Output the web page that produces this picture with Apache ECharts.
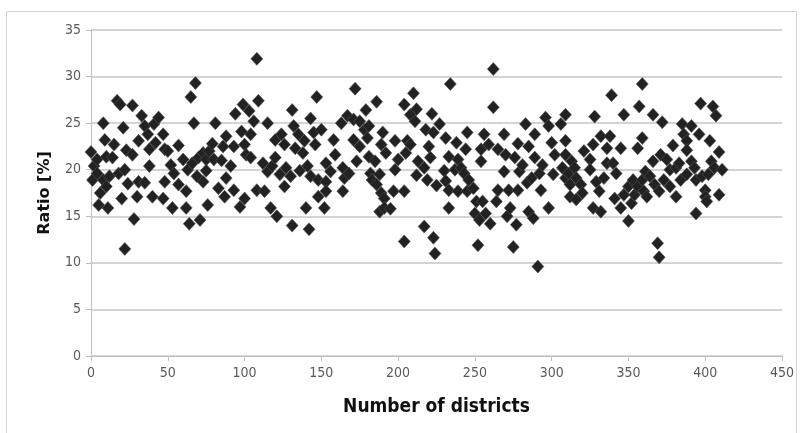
<!DOCTYPE html>
<html>
<head>
<meta charset="utf-8">
<style>
  html, body { margin: 0; padding: 0; background: #ffffff; }
  #chart { width: 802px; height: 433px; }
</style>
<script src="https://cdn.jsdelivr.net/npm/echarts@6.0.0/dist/echarts.min.js"></script>
</head>
<body>
<div id="chart"></div>
<script>
// [district number, ratio %], in segments along the x axis
const seg1 = [[0,21.9],[1,18.9],[2,20.4],[4,21.1],[4,19.6],[5,16.2],[6,17.5],[8,25.0],[8,18.9],[9,23.2],[10,18.2],[10,21.4],[11,15.9],[12,19.3],[14,21.3],[15,22.7],[17,27.4],[18,19.6],[19,27.0],[20,16.9],[21,24.5],[22,20.0],[22,11.5],[23,22.1],[24,18.5],[27,26.9],[27,21.6],[28,14.7],[30,17.1],[31,18.7],[31,23.1],[33,25.8],[35,24.7],[35,18.6],[37,23.8],[38,22.2],[38,20.4],[40,17.1],[41,24.9],[42,22.9],[44,25.6],[47,23.8],[47,16.9],[48,22.2],[48,18.7]];
const seg2 = [[50,22.0],[52,20.5],[53,15.9],[54,19.6],[57,22.6],[57,18.4],[60,21.1],[62,17.7],[62,15.9],[63,20.0],[64,14.2],[65,27.8],[66,20.7],[67,25.0],[68,29.3],[69,19.3],[70,21.3],[71,14.6],[73,21.8],[73,18.7],[75,21.1],[75,19.9],[76,16.2],[77,22.0],[79,22.8],[80,21.1],[81,25.0],[83,18.0],[85,21.0],[86,22.5],[87,17.1],[88,23.6],[88,19.1],[91,20.4],[93,22.5],[93,17.8],[94,26.0],[97,16.0],[98,24.1],[99,27.0],[100,22.7],[100,16.9]];
const seg3 = [[101,21.6],[103,26.3],[104,23.8],[104,21.3],[106,25.2],[108,31.9],[108,17.8],[109,27.4],[112,20.7],[113,17.7],[115,25.0],[115,19.8],[117,15.9],[118,20.4],[120,23.2],[120,21.3],[121,15.0],[123,19.5],[124,23.8],[126,22.7],[126,18.2],[127,20.2],[130,19.3],[131,26.4],[131,14.0],[132,24.7],[133,22.3],[135,23.8],[136,19.9],[138,21.8],[139,23.1],[140,15.9],[141,20.4],[142,13.6],[143,25.5],[143,19.3],[145,24.0],[146,22.7],[147,27.8],[148,18.9],[148,17.1],[150,24.3],[152,15.9],[153,20.7],[153,18.7],[153,17.7]];
const seg4 = [[156,19.8],[158,23.2],[159,21.6],[163,25.0],[164,20.2],[164,17.7],[165,19.1],[167,25.8],[168,19.6],[171,25.4],[171,23.2],[172,28.7],[173,20.9],[175,25.2],[175,22.5],[178,24.3],[179,26.4],[180,23.4],[181,24.7],[181,21.4],[182,19.6],[183,18.9],[185,20.9],[186,18.4],[186,27.3],[188,19.5],[188,15.5],[189,22.7],[189,17.5],[190,24.0],[191,16.9],[191,15.9],[192,21.8],[195,15.8],[197,17.7],[198,23.1],[198,20.0],[200,21.1],[204,27.0],[204,12.3]];
const seg5 = [[204,17.7],[205,21.8],[206,23.1],[208,25.9],[208,22.7],[210,28.2],[211,25.2],[212,26.5],[212,19.4],[213,20.9],[217,20.2],[217,13.9],[218,24.3],[219,18.9],[220,22.5],[221,21.3],[222,26.0],[223,24.0],[223,12.7],[224,11.0],[225,18.3],[227,24.9],[230,19.9],[231,23.4],[231,18.8],[233,21.4],[233,17.8],[233,15.9],[234,29.2],[237,20.0],[238,22.9],[239,21.1],[239,17.7],[241,20.2],[243,19.6],[244,22.2],[245,24.0],[245,17.7],[246,18.9],[249,18.0],[250,15.3],[251,16.6],[252,11.9],[253,14.6],[254,22.2],[254,20.9],[255,16.6],[256,23.8],[257,15.3]];
const seg6 = [[259,22.7],[260,14.2],[262,30.8],[262,26.7],[264,16.6],[265,22.2],[265,17.8],[269,23.8],[269,19.8],[270,21.6],[271,15.0],[272,17.8],[273,15.9],[275,11.7],[276,21.3],[277,14.1],[278,22.8],[278,17.8],[279,19.8],[281,20.5],[283,24.9],[284,18.6],[285,22.5],[285,15.5],[287,19.1],[288,14.8],[289,23.8],[289,21.3],[291,9.6],[292,19.6],[293,17.8],[294,20.5],[296,25.6],[298,24.7],[298,15.9],[300,22.9],[301,19.5],[302,21.6],[306,24.9],[307,20.2],[309,25.9],[309,23.1],[309,21.6],[309,19.1]];
const seg7 = [[311,19.6],[312,18.4],[312,17.1],[313,20.9],[315,20.2],[316,19.1],[316,16.8],[319,18.4],[320,17.5],[321,22.0],[325,21.1],[325,20.0],[327,22.7],[327,15.9],[328,25.7],[329,18.7],[331,17.7],[332,23.6],[332,15.5],[334,19.1],[336,22.3],[336,20.7],[338,23.6],[339,28.0],[340,20.7],[341,16.9],[342,19.6],[345,22.3],[345,15.9],[347,25.9],[347,17.3],[350,18.2],[350,14.5],[352,16.4],[353,18.9],[354,17.3],[356,22.3],[356,18.2],[357,26.8],[359,29.2],[359,23.4],[359,18.9],[360,17.7]];
const seg8 = [[361,19.8],[362,17.1],[364,19.3],[366,25.9],[366,20.9],[367,18.4],[369,12.1],[370,10.6],[370,17.7],[371,21.6],[372,25.1],[373,18.9],[375,21.1],[377,20.0],[377,18.2],[379,22.6],[381,20.2],[381,17.1],[383,20.7],[384,18.9],[385,24.9],[386,23.8],[388,23.1],[388,22.1],[388,19.5],[391,24.7],[391,20.9],[393,20.2],[394,18.9],[394,15.3],[396,23.8],[397,27.1],[398,19.3],[400,17.8],[400,17.1],[401,16.6],[402,19.5],[403,23.1],[404,20.9],[405,26.8],[406,20.2],[407,25.8],[409,21.9],[409,17.3],[411,20.0]];

const xTitle = 'Number of districts';
const yTitle = 'Ratio [%]';

const points = [].concat(seg1, seg2, seg3, seg4, seg5, seg6, seg7, seg8);

const labelFont = "'Liberation Sans Narrow', 'DejaVu Sans Condensed', sans-serif";
const chart = echarts.init(document.getElementById('chart'), null, { renderer: 'canvas' });
chart.setOption({
  animation: false,
  backgroundColor: '#ffffff',
  graphic: [{
    type: 'rect',
    shape: { x: 6.5, y: 11.5, width: 790, height: 440 },
    style: { fill: 'none', stroke: '#d4d4d4', lineWidth: 1 },
    silent: true
  }],
  grid: { left: 91, right: 20, top: 30, bottom: 77, containLabel: false },
  xAxis: {
    type: 'value', min: 0, max: 450, interval: 50,
    name: xTitle, nameLocation: 'middle', nameGap: 42,
    nameTextStyle: { fontFamily: labelFont, fontWeight: 'bold', fontSize: 19, color: '#111' },
    axisLine: { show: true, lineStyle: { color: '#bfbfbf', width: 1 } },
    axisTick: { show: true, length: 5, lineStyle: { color: '#bfbfbf' } },
    axisLabel: { fontFamily: labelFont, fontSize: 14, color: '#595959', margin: 10 },
    splitLine: { show: false }
  },
  yAxis: {
    type: 'value', min: 0, max: 35, interval: 5,
    name: yTitle, nameLocation: 'middle', nameGap: 38,
    nameTextStyle: { fontFamily: "'DejaVu Sans', sans-serif", fontWeight: 'bold', fontSize: 16, color: '#111' },
    axisLine: { show: true, lineStyle: { color: '#bfbfbf', width: 1 } },
    axisTick: { show: true, length: 5, lineStyle: { color: '#bfbfbf' } },
    axisLabel: { fontFamily: labelFont, fontSize: 14, color: '#595959', margin: 10 },
    splitLine: { show: true, lineStyle: { color: '#c6c6c6', width: 1.5 } }
  },
  series: [{
    type: 'scatter',
    data: points,
    symbol: 'diamond',
    symbolSize: [12, 13],
    itemStyle: { color: '#222222', opacity: 1, borderColor: '#555555', borderWidth: 0.6 }
  }]
});
</script>
</body>
</html>
